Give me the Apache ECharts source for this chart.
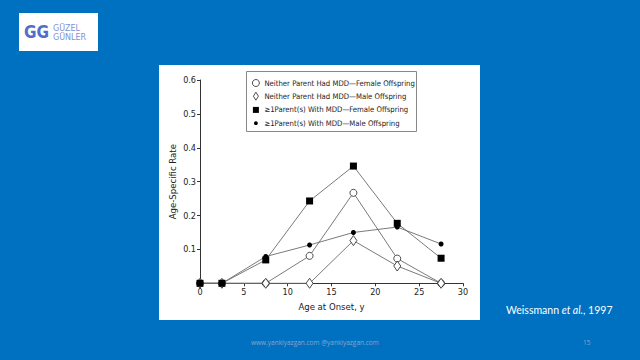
<!DOCTYPE html>
<html><head><meta charset="utf-8">
<script src="https://cdn.jsdelivr.net/npm/echarts@6/dist/echarts.min.js"></script>
<style>html,body{margin:0;padding:0;background:#0070C0;}#c{width:640px;height:360px;}</style>
</head><body><div id="c"></div>
<script>
const ages = [0, 2.5, 7.5, 12.5, 17.5, 22.5, 27.5];
const neitherFemale = [0, 0, 0, 0.081, 0.267, 0.073, 0];
const neitherMale = [0, 0, 0, 0, 0.126, 0.051, 0];
const parentFemale = [0, 0, 0.069, 0.243, 0.346, 0.177, 0.074];
const parentMale = [0, 0, 0.079, 0.113, 0.150, 0.166, 0.116];
const seriesNames = [
  'Neither Parent Had MDD\u2014Female Offspring',
  'Neither Parent Had MDD\u2014Male Offspring',
  '\u22651Parent(s) With MDD\u2014Female Offspring',
  '\u22651Parent(s) With MDD\u2014Male Offspring'
];
const yTicks = [0, 0.1, 0.2, 0.3, 0.4, 0.5, 0.6];
const xTicks = [0, 5, 10, 15, 20, 25, 30];

const FONT = "'DejaVu Sans Condensed','Liberation Sans',sans-serif";
const pair = (vals) => ages.map((a, i) => [a, vals[i]]);
const lineStyle = {color: '#6b6b6b', width: 0.9};

const chart = echarts.init(document.getElementById('c'), null, {renderer: 'svg'});
chart.setOption({
  backgroundColor: '#0070C0',
  animation: false,
  graphic: [
    {type: 'rect', shape: {x: 159, y: 65, width: 321, height: 255}, style: {fill: '#ffffff'}, z: -10},
    {type: 'rect', shape: {x: 19, y: 13, width: 79, height: 38}, style: {fill: '#ffffff'}, z: -10},
    {type: 'text', x: 24, y: 23, style: {text: 'GG', fill: '#4f6fc9', font: "bold 17px 'DejaVu Sans Condensed',sans-serif"}},
    {type: 'text', x: 53, y: 24, style: {text: 'G\u00dcZEL', fill: '#7d93d6', font: "8px 'DejaVu Sans',sans-serif"}},
    {type: 'text', x: 53, y: 33, style: {text: 'G\u00dcNLER', fill: '#7d93d6', font: "8px 'DejaVu Sans',sans-serif"}},
    {type: 'rect', shape: {x: 246.5, y: 71.5, width: 170, height: 60}, style: {fill: '#ffffff', stroke: '#888', lineWidth: 1}, z: 1},
    {type: 'text', x: 506, y: 304, style: {rich: {a: {font: "10.5px Lato,sans-serif", fill: '#fff'}, b: {font: "italic 10.5px Lato,sans-serif", fill: '#fff'}}, text: '{a|Weissmann }{b|et al.}{a|, 1997}'}},
    {type: 'text', x: 251, y: 339, style: {text: 'www.yankiyazgan.com @yankiyazgan.com', fill: '#8aa6cf', font: "6.5px 'Open Sans',sans-serif"}},
    {type: 'text', x: 583, y: 339, style: {text: '15', fill: '#8aa6cf', font: "6.5px 'Open Sans',sans-serif"}}
  ],
  grid: {left: 200, top: 80, width: 263, height: 203.3, containLabel: false},
  legend: {
    orient: 'vertical', left: 252, top: 79, z: 5, padding: 0,
    itemWidth: 7, itemHeight: 9, itemGap: 4.3, itemTextGap: 4,
    textStyle: {fontFamily: FONT, fontSize: 7.7, color: '#222'},
    data: [
      {name: seriesNames[0], icon: 'circle', itemStyle: {color: '#fff', borderColor: '#222', borderWidth: 0.8}},
      {name: seriesNames[1], icon: 'path://M0,0M7,9M3.5,0.5L6,4.5L3.5,8.5L1,4.5z', itemStyle: {color: '#fff', borderColor: '#222', borderWidth: 0.8}},
      {name: seriesNames[2], icon: 'path://M0,0M7,9M0.5,1.5h6v6h-6z', itemStyle: {color: '#000'}},
      {name: seriesNames[3], icon: 'path://M0,0M7,9M3.5,2.6a1.9,1.9 0 1,0 0.001,0z', itemStyle: {color: '#000'}}
    ]
  },
  xAxis: {
    type: 'value', min: xTicks[0], max: xTicks[xTicks.length - 1], interval: 5,
    name: 'Age at Onset, y', nameLocation: 'middle', nameGap: 16,
    nameTextStyle: {fontFamily: FONT, fontSize: 9.5, color: '#222'},
    axisLine: {show: true, lineStyle: {color: '#333', width: 1}},
    axisTick: {show: true, length: 3, lineStyle: {color: '#333'}},
    axisLabel: {fontFamily: FONT, fontSize: 9, color: '#222', margin: 4},
    splitLine: {show: false}
  },
  yAxis: {
    type: 'value', min: yTicks[0], max: yTicks[yTicks.length - 1], interval: 0.1,
    name: 'Age-Specific Rate', nameLocation: 'middle', nameGap: 23, nameRotate: 90,
    nameTextStyle: {fontFamily: FONT, fontSize: 9.5, color: '#222'},
    axisLine: {show: true, lineStyle: {color: '#333', width: 1}},
    axisTick: {show: true, length: 3, lineStyle: {color: '#333'}},
    axisLabel: {fontFamily: FONT, fontSize: 9, color: '#222', margin: 4,
      formatter: v => v === 0 ? '' : v.toFixed(1)},
    splitLine: {show: false}
  },
  series: [
    {name: seriesNames[0], type: 'line', data: pair(neitherFemale), clip: false,
     symbol: 'circle', symbolSize: 7, showAllSymbol: true, lineStyle,
     itemStyle: {color: '#fff', borderColor: '#222', borderWidth: 0.8}, z: 3},
    {name: seriesNames[1], type: 'line', data: pair(neitherMale), clip: false,
     symbol: 'diamond', symbolSize: [7, 10], showAllSymbol: true, lineStyle,
     itemStyle: {color: '#fff', borderColor: '#222', borderWidth: 0.8}, z: 3},
    {name: seriesNames[2], type: 'line', data: pair(parentFemale), clip: false,
     symbol: 'rect', symbolSize: 7, showAllSymbol: true, lineStyle,
     itemStyle: {color: '#000'}, z: 3},
    {name: seriesNames[3], type: 'line', data: pair(parentMale), clip: false,
     symbol: 'circle', symbolSize: 5, showAllSymbol: true, lineStyle,
     itemStyle: {color: '#000'}, z: 3}
  ]
});
</script></body></html>
